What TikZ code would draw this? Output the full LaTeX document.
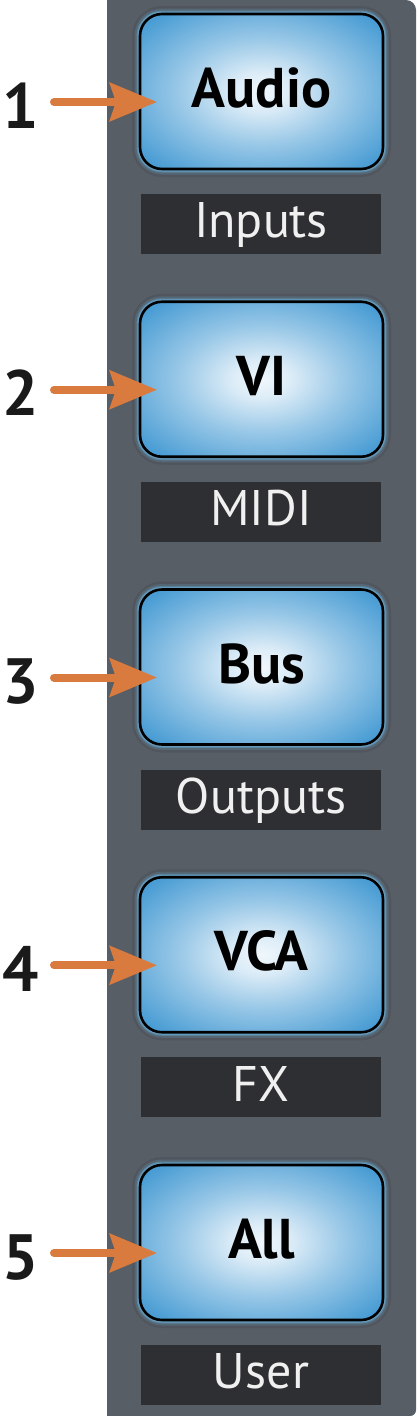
\documentclass[tikz,border=0pt]{standalone}
\usepackage{fontspec}
\setmainfont{PT Sans}
\usetikzlibrary{arrows.meta}
\definecolor{panel}{RGB}{88,94,102}
\definecolor{labelbg}{RGB}{46,47,50}
\definecolor{btnblue}{RGB}{74,157,212}
\definecolor{btnlight}{RGB}{240,247,252}
\definecolor{glow}{RGB}{104,172,212}
\definecolor{arroworange}{RGB}{217,123,62}
\definecolor{numblack}{RGB}{26,26,26}
\pgfdeclareradialshading{btnshade}{\pgfpoint{0bp}{0bp}}{color(0bp)=(btnlight); color(6bp)=(btnlight!88!btnblue); color(17bp)=(btnblue!52!btnlight); color(32bp)=(btnblue); color(50bp)=(btnblue)}
\tikzset{
  btnbox/.style={rectangle, rounded corners=22pt, minimum width=243pt, minimum height=155pt,
    shading=btnshade, draw=black, line width=2.6pt,
    preaction={draw=black, line width=16pt, opacity=0.08},
    preaction={draw=glow, line width=11pt, opacity=0.2},
    preaction={draw=glow, line width=7pt, opacity=0.4},
    preaction={draw=glow, line width=5pt, opacity=0.6}},
  btntext/.style={anchor=base, inner sep=0pt, text=black, font=\fontsize{56}{56}\selectfont\bfseries},
  labbox/.style={rectangle, fill=labelbg, minimum width=240pt, minimum height=60pt, inner sep=0pt},
  labtext/.style={anchor=base, inner sep=0pt, text=white!94!black, font=\fontsize{50}{50}\selectfont},
  numtext/.style={anchor=base, inner sep=0pt, text=numblack, font=\fontsize{64}{64}\selectfont\bfseries},
  arr/.style={draw=arroworange, line width=8pt, line cap=round, -{Stealth[length=47pt,width=38pt,inset=6pt,fill=arroworange]}}
}
\begin{document}
\begin{tikzpicture}[x=1pt,y=-1pt]
\useasboundingbox (0,0) rectangle (416,1416);
\fill[white] (0,0) rectangle (416,1416);
\fill[panel] (107,0) [rounded corners=10pt] -- (416,0) [rounded corners=6pt] -- (416,1416) [sharp corners] -- (107,1416) -- cycle;
\foreach \i/\bt/\lt in {1/Audio/Inputs, 2/VI/MIDI, 3/Bus/Outputs, 4/VCA/FX, 5/All/User} {
  \pgfmathsetmacro\tp{14+287.75*(\i-1)}
  \node[btnbox] (btn\i) at (261.5,\tp+77.5) {};
  \node[btntext] (bt\i) at ([yshift=-95pt]btn\i.north) {\bt};
  \node[labbox] (lab\i) at (261,\tp+210) {};
  \node[labtext] (lt\i) at ([yshift=-44pt]lab\i.north) {\lt};
  \coordinate (tail\i) at (54,\tp+88);
  \coordinate (tip\i) at (157,\tp+88);
  \node[numtext] (num\i) at (21,\tp+114) {\i};
  \draw[arr] (tail\i) -- (tip\i);
}
\end{tikzpicture}
\end{document}
